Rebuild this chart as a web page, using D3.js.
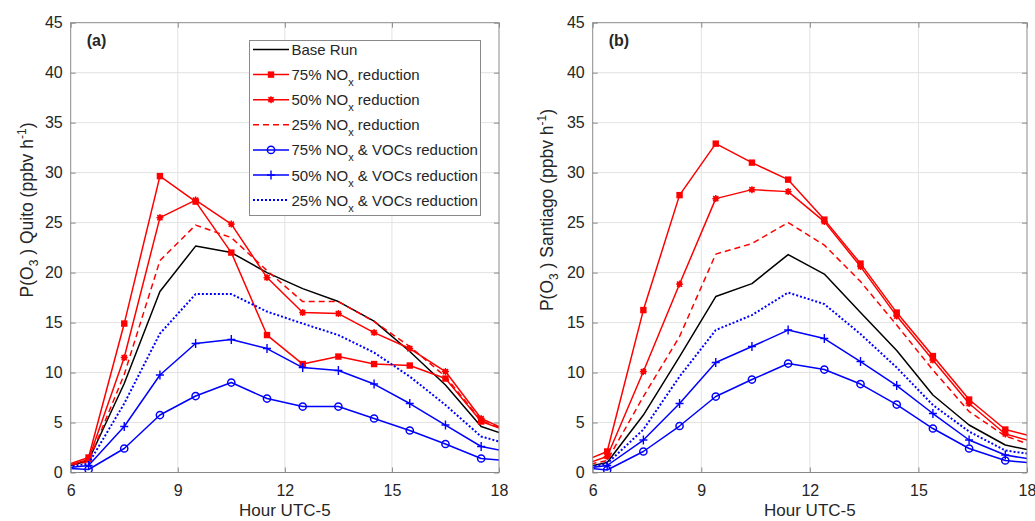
<!DOCTYPE html>
<meta charset="utf-8">
<script src="https://d3js.org/d3.v7.min.js"></script>
<style>
  body { margin: 0; background: #fff; }
  text { font-family: "Liberation Sans", Arial, sans-serif; fill: #262626; }
  .grid line { stroke: #e3e3e3; stroke-width: 1; }
  .frame { fill: none; stroke: #8a8a8a; stroke-width: 1; }
</style>
<div id="chart"></div>
<script>
// hours of the data points (first and last fall outside the 6-18 window)
var hoursQuito = [5.5, 6.5, 7.5, 8.5, 9.5, 10.5, 11.5, 12.5, 13.5, 14.5, 15.5, 16.5, 17.5, 18.5];
var hoursSantiago = [5.4, 6.4, 7.4, 8.4, 9.4, 10.4, 11.4, 12.4, 13.4, 14.4, 15.4, 16.4, 17.4, 18.4];

var quitoBase  = [0.2, 1.2, 8.9, 18.1, 22.65, 22.0, 20.0, 18.4, 17.1, 15.15, 12.1, 8.75, 4.6, 3.4];
var quitoNox75 = [0.3, 1.5, 14.9, 29.65, 27.1, 22.0, 13.75, 10.85, 11.6, 10.85, 10.7, 9.4, 5.1, 3.8];
var quitoNox50 = [0.3, 1.3, 11.5, 25.5, 27.25, 24.85, 19.5, 16.0, 15.9, 14.0, 12.4, 10.1, 5.4, 3.8];
var quitoNox25 = [0.3, 1.1, 9.8, 21.2, 24.75, 23.5, 20.2, 17.1, 17.1, 15.1, 12.6, 9.6, 5.2, 3.8];
var quitoNv75  = [0.5, 0.3, 2.4, 5.75, 7.65, 9.0, 7.4, 6.6, 6.6, 5.4, 4.2, 2.85, 1.4, 1.1];
var quitoNv50  = [0.3, 0.7, 4.6, 9.75, 12.9, 13.3, 12.4, 10.5, 10.2, 8.85, 6.9, 4.75, 2.6, 1.9];
var quitoNv25  = [0.3, 0.9, 6.9, 13.9, 17.85, 17.85, 16.1, 14.9, 13.75, 12.0, 9.6, 6.75, 3.6, 2.6];

var santBase  = [0.25, 1.0, 5.75, 11.6, 17.6, 18.9, 21.8, 19.85, 16.0, 12.2, 7.75, 4.75, 2.75, 2.0];
var santNox75 = [0.6, 2.1, 16.25, 27.75, 32.9, 31.0, 29.3, 25.3, 20.9, 16.0, 11.65, 7.3, 4.3, 3.4];
var santNox50 = [0.35, 1.6, 10.1, 18.85, 27.4, 28.3, 28.1, 25.1, 20.6, 15.65, 11.25, 6.9, 3.85, 2.85];
var santNox25 = [0.45, 1.2, 7.6, 13.6, 21.85, 22.9, 25.0, 22.75, 19.1, 14.75, 10.25, 6.1, 3.65, 2.4];
var santNv75  = [0.6, 0.25, 2.1, 4.65, 7.6, 9.3, 10.9, 10.3, 8.85, 6.8, 4.4, 2.4, 1.2, 0.85];
var santNv50  = [0.2, 0.7, 3.25, 6.9, 11.0, 12.6, 14.25, 13.4, 11.1, 8.7, 5.9, 3.25, 1.75, 1.15];
var santNv25  = [0.1, 0.9, 4.3, 9.6, 14.25, 15.75, 18.0, 16.85, 13.85, 10.5, 6.75, 4.1, 2.2, 1.7];

var seriesNames = ["Base Run", "75% NO|x| reduction", "50% NO|x| reduction", "25% NO|x| reduction",
  "75% NO|x| & VOCs reduction", "50% NO|x| & VOCs reduction", "25% NO|x| & VOCs reduction"];
var xTicks = [6, 9, 12, 15, 18];
var yTicks = [0, 5, 10, 15, 20, 25, 30, 35, 40, 45];

// look of each series, same order as seriesNames
var styles = [
  { color: "#000", dash: null, marker: null, w: 1.5 },
  { color: "#f00", dash: null, marker: "square", w: 1.5 },
  { color: "#f00", dash: null, marker: "star", w: 1.5 },
  { color: "#f00", dash: "6,4", marker: null, w: 1.5 },
  { color: "#00f", dash: null, marker: "circle", w: 1.5 },
  { color: "#00f", dash: null, marker: "plus", w: 1.5 },
  { color: "#00f", dash: "2,2", marker: null, w: 2 }
];

var width = 1035, height = 521;
var svg = d3.select("#chart").append("svg")
  .attr("width", width).attr("height", height);

function drawMarker(g, type, color) {
  if (type === "square") {
    g.append("rect").attr("x", -3.2).attr("y", -3.2).attr("width", 6.4).attr("height", 6.4)
      .attr("fill", color);
  } else if (type === "star") {
    g.append("circle").attr("r", 2.6).attr("fill", color);
    g.append("path").attr("d", "M-3.5,0H3.5M0,-3.5V3.5M-2.6,-2.6L2.6,2.6M-2.6,2.6L2.6,-2.6")
      .attr("stroke", color).attr("stroke-width", 1.4);
  } else if (type === "circle") {
    g.append("circle").attr("r", 3.6).attr("fill", "none")
      .attr("stroke", color).attr("stroke-width", 1.5);
  } else if (type === "plus") {
    g.append("path").attr("d", "M-4,0H4M0,-4.5V4.5")
      .attr("stroke", color).attr("stroke-width", 1.4);
  }
}

function addRich(textSel, label) {
  // label pieces split by |...| are subscripts
  var parts = label.split("|");
  parts.forEach(function (p, i) {
    if (i % 2 === 1) {
      textSel.append("tspan").attr("font-size", "11px").attr("dy", 6).text(p);
    } else if (i > 0) {
      textSel.append("tspan").attr("dy", -6).text(" " + p);
    } else {
      textSel.append("tspan").text(p);
    }
  });
}

function drawPanel(cfg) {
  var x = d3.scaleLinear().domain([6, 18]).range([cfg.left, cfg.right]);
  var y = d3.scaleLinear().domain([0, 45]).range([472.5, 22.7]);
  var g = svg.append("g");

  var grid = g.append("g").attr("class", "grid");
  grid.selectAll(".gx").data(xTicks.slice(1, -1)).enter().append("line")
    .attr("x1", function (d) { return x(d); }).attr("x2", function (d) { return x(d); })
    .attr("y1", y(0)).attr("y2", y(45));
  grid.selectAll(".gy").data(yTicks.slice(1, -1)).enter().append("line")
    .attr("y1", function (d) { return y(d); }).attr("y2", function (d) { return y(d); })
    .attr("x1", x(6)).attr("x2", x(18));

  var clipId = "clip" + cfg.id;
  svg.append("clipPath").attr("id", clipId).append("rect")
    .attr("x", x(6)).attr("y", y(45)).attr("width", x(18) - x(6)).attr("height", y(0) - y(45));

  var plot = g.append("g").attr("clip-path", "url(#" + clipId + ")");
  var line = d3.line().x(function (d) { return x(d[0]); }).y(function (d) { return y(d[1]); });

  cfg.series.forEach(function (vals, i) {
    var st = styles[i];
    var pts = cfg.hours.map(function (h, j) { return [h, vals[j]]; });
    plot.append("path").datum(pts).attr("d", line)
      .attr("fill", "none").attr("stroke", st.color).attr("stroke-width", st.w)
      .attr("stroke-dasharray", st.dash).attr("stroke-linejoin", "round");
    if (st.marker) {
      pts.forEach(function (p) {
        var m = plot.append("g").attr("transform", "translate(" + x(p[0]) + "," + y(p[1]) + ")");
        drawMarker(m, st.marker, st.color);
      });
    }
  });

  // axes with inward ticks
  var xAxis = d3.axisBottom(x).tickValues(xTicks).tickSize(-5).tickPadding(12);
  var yAxis = d3.axisLeft(y).tickValues(yTicks).tickSize(-5).tickPadding(8);
  var xa = g.append("g").attr("transform", "translate(0," + y(0) + ")").call(xAxis);
  var ya = g.append("g").attr("transform", "translate(" + x(6) + ",0)").call(yAxis);
  [xa, ya].forEach(function (a) {
    a.select(".domain").remove();
    a.selectAll(".tick line").attr("stroke", "#8a8a8a");
    a.selectAll("text").attr("font-size", "16px").attr("fill", "#262626")
      .attr("font-family", "Liberation Sans, Arial, sans-serif");
  });
  // ticks on top and right sides too
  g.append("g").attr("transform", "translate(0," + y(45) + ")")
    .call(d3.axisTop(x).tickValues(xTicks).tickSize(-5).tickFormat(""))
    .call(function (a) { a.select(".domain").remove(); a.selectAll("line").attr("stroke", "#8a8a8a"); });
  g.append("g").attr("transform", "translate(" + x(18) + ",0)")
    .call(d3.axisRight(y).tickValues(yTicks).tickSize(-5).tickFormat(""))
    .call(function (a) { a.select(".domain").remove(); a.selectAll("line").attr("stroke", "#8a8a8a"); });

  g.append("rect").attr("class", "frame")
    .attr("x", x(6)).attr("y", y(45)).attr("width", x(18) - x(6)).attr("height", y(0) - y(45));

  g.append("text").attr("x", x(6) + 16).attr("y", 46)
    .attr("font-size", "16px").attr("font-weight", "bold").attr("fill", "#000").text(cfg.tag);

  g.append("text").attr("x", (x(6) + x(18)) / 2).attr("y", 516)
    .attr("text-anchor", "middle").attr("font-size", "17px").text("Hour UTC-5");

  var yl = g.append("text").attr("text-anchor", "middle").attr("font-size", "17.5px")
    .attr("transform", "translate(" + cfg.ylabelX + ",210) rotate(-90)");
  yl.append("tspan").text("P(O");
  yl.append("tspan").attr("font-size", "12px").attr("dy", 5).text("3");
  yl.append("tspan").attr("dy", -5).text(" ) " + cfg.site + " (ppbv h");
  yl.append("tspan").attr("font-size", "12px").attr("dy", -7).text("-1");
  yl.append("tspan").attr("dy", 7).text(")");

  return g;
}

drawPanel({ id: "a", left: 70.7, right: 499, hours: hoursQuito, tag: "(a)", site: "Quito", ylabelX: 33,
  series: [quitoBase, quitoNox75, quitoNox50, quitoNox25, quitoNv75, quitoNv50, quitoNv25] });
drawPanel({ id: "b", left: 592.7, right: 1027, hours: hoursSantiago, tag: "(b)", site: "Santiago", ylabelX: 553,
  series: [santBase, santNox75, santNox50, santNox25, santNv75, santNv50, santNv25] });

// legend in panel (a)
var leg = svg.append("g");
leg.append("rect").attr("x", 249.5).attr("y", 40.5).attr("width", 231).attr("height", 175)
  .attr("fill", "#fff").attr("stroke", "#8a8a8a");
seriesNames.forEach(function (name, i) {
  var st = styles[i];
  var cy = 49.5 + i * 25.1;
  leg.append("line").attr("x1", 253).attr("x2", 289).attr("y1", cy).attr("y2", cy)
    .attr("stroke", st.color).attr("stroke-width", st.w).attr("stroke-dasharray", st.dash);
  if (st.marker) {
    var m = leg.append("g").attr("transform", "translate(271," + cy + ")");
    drawMarker(m, st.marker, st.color);
  }
  var t = leg.append("text").attr("x", 291.5).attr("y", cy + 5.5).attr("font-size", "15px").attr("fill", "#000");
  addRich(t, name);
});
</script>
